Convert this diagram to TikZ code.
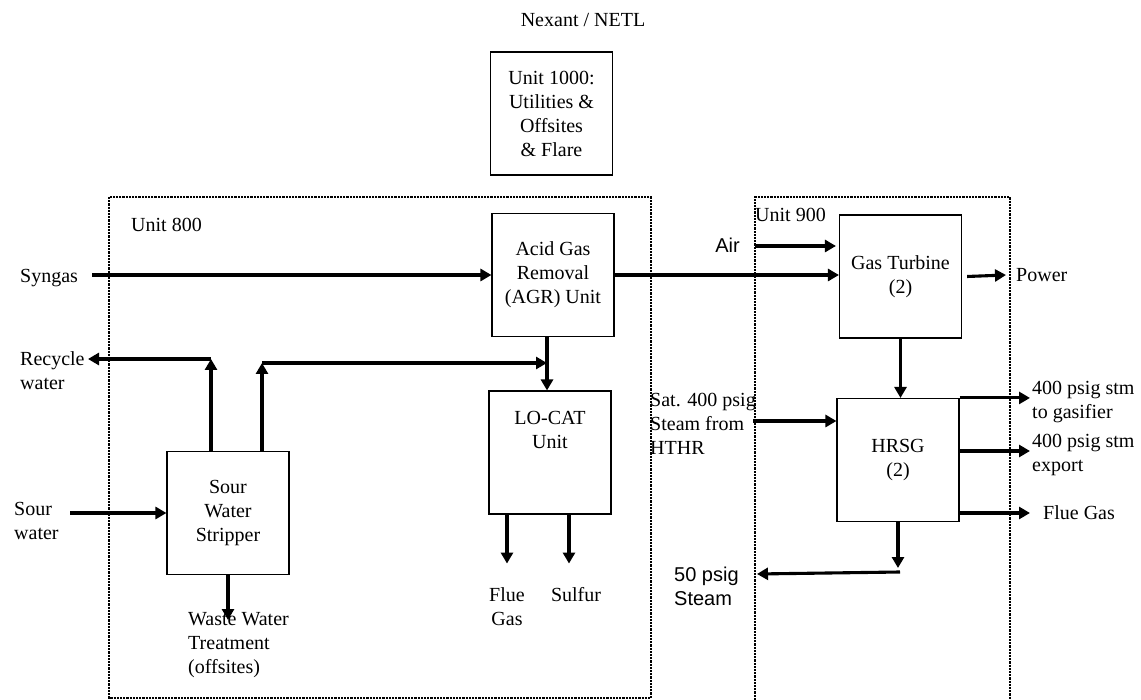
\documentclass[tikz,border=0pt]{standalone}
\usepackage{fontspec}
\setmainfont{Liberation Serif}
\newfontfamily\arialfont{Liberation Sans}
\usetikzlibrary{arrows.meta,positioning,calc}

\begin{document}
\begin{tikzpicture}[
  x=1pt,y=-1pt,
  font=\fontsize{20}{24}\selectfont,
  box/.style={draw,line width=1.1pt,align=center,minimum width=122pt,
              minimum height=123pt,inner sep=2pt},
  lbl/.style={align=left,inner sep=2pt},
  unitbox/.style={line width=2.2pt,densely dotted},
  arrow/.style={-{Triangle[length=11pt,width=12pt]},line width=3.1pt},
  main/.style={arrow,line width=4pt}
]
\useasboundingbox (0,0) rectangle (1141,700);

\node (netl) at (583,20) {Nexant / NETL};
\node[box] (u1000) at (551.5,113.5) {Unit 1000:\\Utilities \&\\Offsites\\\& Flare};

\draw[unitbox] (109,197) rectangle (651,698);
\draw[unitbox] (755,700) -- (755,197) -- (1010,197) -- (1010,700);
\node[lbl,anchor=west] (u800) at (129,225) {Unit 800};
\node[lbl,anchor=west] (u900) at (753,215) {Unit 900};

\node[box] (agr) at (553,275) {Acid Gas\\Removal\\(AGR) Unit};
\node[box] (locat) at (550,452.5) {LO-CAT\\Unit\\[22pt]};
\node[box] (sws) at (228,513) {Sour\\Water\\Stripper};
\node[box] (gt) at (900.5,276.5) {Gas Turbine\\(2)};
\node[box] (hrsg) at (898,460) {HRSG\\(2)};

\node[lbl,anchor=west] (syngas) at (18,278) {Syngas};
\node[lbl,anchor=west] (recycle) at (18,371) {Recycle\\water};
\node[lbl,anchor=west] (sour) at (12,521) {Sour\\water};
\node[lbl,anchor=north west] (waste) at (186,610) {Waste Water\\Treatment\\(offsites)};
\node[lbl,align=center] (fgas1) at (507,607) {Flue\\Gas};
\node[lbl] (sulfur) at (576,595) {Sulfur};
\node[lbl,anchor=east,font=\arialfont\fontsize{20}{24}\selectfont] (air) at (742,245) {Air};
\node[lbl,anchor=west] (power) at (1014,275) {Power};
\node[lbl,anchor=west] (sat) at (648,424) {Sat. 400 psig\\Steam from\\HTHR};
\node[lbl,anchor=west] (gasif) at (1030,402) {400 psig stm\\to gasifier};
\node[lbl,anchor=west] (export) at (1030,455) {400 psig stm\\export};
\node[lbl,anchor=west] (fgas2) at (1041,513) {Flue Gas};
\node[lbl,anchor=west,font=\arialfont\fontsize{20}{24}\selectfont] (lps) at (672,586) {50 psig\\Steam};

\coordinate (syn-in) at (92,275);
\coordinate (air-in) at (755,246);
\coordinate (st-in) at (753,421);
\coordinate (sw-in) at (70,513);
\coordinate (rec-c) at (211,359);
\coordinate (rec-end) at (88,359);
\coordinate (up-c) at (262,363);
\coordinate (ww-end) at (228,620);
\coordinate (lp-c) at (898,568);
\coordinate (lp-s) at (900,572);
\coordinate (lp-end) at (757,574);

\draw[main] (syn-in) -- (agr.west);
\draw[main] (agr.east) -- (agr.east -| gt.west);
\draw[arrow] (air-in) -- ([xshift=-3pt]air-in -| gt.west);
\draw[arrow] ([xshift=5pt]gt.east) -- ([xshift=-8pt]power.west);
\draw[arrow] (gt.south) -- (gt.south |- hrsg.north);
\draw[arrow] (st-in) -- (st-in -| hrsg.west);
\draw[arrow] (hrsg.north east) -- (gasif.west |- hrsg.north east);
\draw[arrow] ([yshift=9pt]hrsg.east) -- ([yshift=9pt]hrsg.east -| export.west);
\draw[arrow] (hrsg.east |- fgas2.west) -- ([xshift=-11pt]fgas2.west);
\draw[arrow] (hrsg.south) -- (lp-c);
\draw[arrow] (lp-s) -- (lp-end);

\draw[arrow] ([xshift=-6pt]agr.south) -- ([xshift=-6pt]agr.south |- locat.north);
\draw[arrow] (sws.north -| rec-c) -- (rec-c);
\draw[arrow] (rec-c) -- (rec-end);
\draw[arrow] (sws.north -| up-c) -- (up-c);
\draw[arrow] (up-c) -- ([xshift=-6pt]up-c -| agr.south);
\draw[arrow] (sw-in) -- (sws.west);
\draw[arrow] (sws.south) -- (ww-end);
\draw[arrow] (locat.south -| fgas1) -- ++(0,49);
\draw[arrow] (locat.south -| 569,0) -- ++(0,49);
\end{tikzpicture}
\end{document}
